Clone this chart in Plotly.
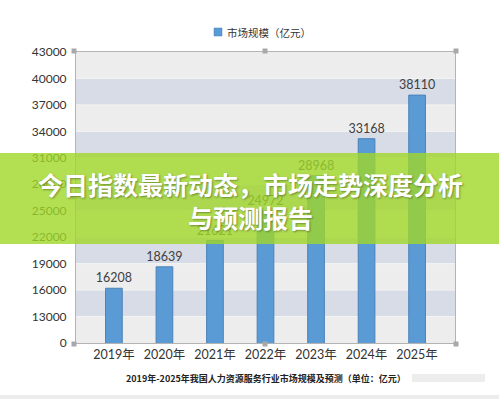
import plotly.graph_objects as go

# ---- data ----
years = ["2019年", "2020年", "2021年", "2022年", "2023年", "2024年", "2025年"]
market_size = [16208, 18639, 21621, 24972, 28968, 33168, 38110]
tick_vals = [10000, 13000, 16000, 19000, 22000, 25000, 28000, 31000, 34000, 37000, 40000, 43000]
tick_text = ["0", "13000", "16000", "19000", "22000", "25000", "28000", "31000", "34000", "37000", "40000", "43000"]
series_name = "市场规模（亿元）"
banner_text = "今日指数最新动态，市场走势深度分析<br>与预测报告"
bottom_title = "2019年-2025年我国人力资源服务行业市场规模及预测（单位：亿元）"

W, H = 499, 399
L, R, T, B = 76, 455, 52, 343  # plot area in pixels
BAR_COLOR = "#5b9bd5"


def px(x):
    return (x - L) / (R - L)


def py(y):
    return (B - y) / (B - T)


fig = go.Figure()
fig.add_trace(go.Bar(
    x=years, y=market_size, name=series_name,
    marker=dict(color=BAR_COLOR, line=dict(color="#4a82b8", width=1)),
    width=0.33,
    text=[str(v) for v in market_size], textposition="outside",
    textfont=dict(family="Lato, Open Sans, sans-serif", size=12.5, color="#404040"),
    constraintext="none",
    cliponaxis=False,
    showlegend=False,
))

shapes = []
# alternating bands
for i in range(len(tick_vals) - 1):
    shapes.append(dict(type="rect", xref="paper", yref="y", x0=0, x1=1,
                       y0=tick_vals[i], y1=tick_vals[i + 1], layer="below",
                       line=dict(width=0),
                       fillcolor="#d7dce6" if i % 2 == 1 else "#ededed"))
# faint grid lines
for v in tick_vals[1:-1]:
    shapes.append(dict(type="line", xref="paper", yref="y", x0=0, x1=1, y0=v, y1=v,
                       layer="below", line=dict(color="#f4f4f4", width=1)))
# frame handles
for hx, hy in [(74, 51), (265, 51), (456, 51), (74, 344), (265, 344), (456, 344), (74, 197), (456, 197)]:
    shapes.append(dict(type="rect", xref="paper", yref="paper",
                       x0=px(hx - 2.5), x1=px(hx + 2.5), y0=py(hy + 2.5), y1=py(hy - 2.5),
                       fillcolor="#a8a8a8", line=dict(width=0), layer="above"))
# legend swatch
shapes.append(dict(type="rect", xref="paper", yref="paper",
                   x0=px(214), x1=px(222), y0=py(36), y1=py(28),
                   fillcolor=BAR_COLOR, line=dict(color="#4a82b8", width=0.5), layer="above"))
# green banner
shapes.append(dict(type="rect", xref="paper", yref="paper",
                   x0=px(-2), x1=px(W + 2), y0=py(244), y1=py(153),
                   fillcolor="rgba(160,215,40,0.80)", line=dict(width=0), layer="above"))
# blurred watermark & bottom strip
shapes.append(dict(type="rect", xref="paper", yref="paper",
                   x0=px(412), x1=px(485), y0=py(382), y1=py(374),
                   fillcolor="rgba(220,220,220,0.5)", line=dict(width=0), layer="above"))
shapes.append(dict(type="rect", xref="paper", yref="paper",
                   x0=px(-2), x1=px(W + 2), y0=py(H + 2), y1=py(395),
                   fillcolor="#ececec", line=dict(width=0), layer="above"))

annotations = [
    dict(text=series_name, xref="paper", yref="paper", x=px(225), y=py(32),
         xanchor="left", yanchor="middle", showarrow=False,
         font=dict(family="Noto Sans CJK SC", size=10.5, color="#333333")),
    dict(text=banner_text, xref="paper", yref="paper", x=px(250), y=py(200),
         xanchor="center", yanchor="middle", showarrow=False,
         font=dict(family="Noto Sans CJK SC", size=25, color="white", weight="bold",
                   shadow="1px 1px 2px rgba(0,0,0,0.35)"),
         align="center"),
    dict(text="<b>" + bottom_title + "</b>", xref="paper", yref="paper", x=px(266), y=py(378),
         xanchor="center", yanchor="middle", showarrow=False,
         font=dict(family="Noto Sans CJK SC", size=9, color="#222222")),
]

fig.update_layout(
    width=W, height=H, autosize=False,
    margin=dict(l=L, r=W - R, t=T, b=H - B, pad=0),
    paper_bgcolor="white", plot_bgcolor="#ededed",
    showlegend=False,
    shapes=shapes, annotations=annotations,
    xaxis=dict(range=[-0.75, 6.75], showgrid=False, showline=True, linecolor="#b4b4b4",
               linewidth=1, mirror=True, ticks="",
               tickfont=dict(family="Lato, Noto Sans CJK SC", size=12.5, color="#333333")),
    yaxis=dict(range=[10000, 43000], tickvals=tick_vals, ticktext=tick_text,
               showgrid=False, showline=True, linecolor="#b4b4b4", linewidth=1, mirror=True,
               ticks="", ticklabelstandoff=6, zeroline=False,
               tickfont=dict(family="Lato, Open Sans, sans-serif", size=12, color="#333333")),
)

fig.write_html("out.html", config={"displayModeBar": False},
               post_script="document.body.style.margin='0';document.body.style.overflow='hidden';")
